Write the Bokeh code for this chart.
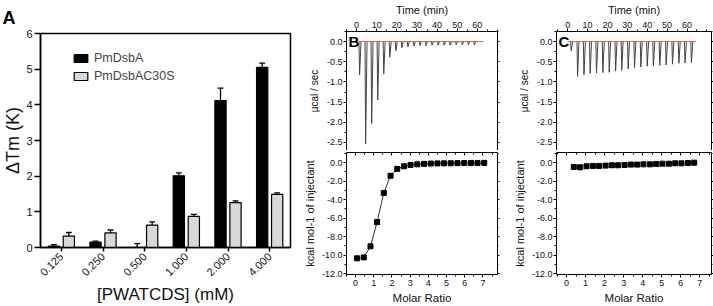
import math
from bokeh.plotting import figure
from bokeh.layouts import row, column
from bokeh.models import (FactorRange, Range1d, LinearAxis, Label, Legend, LegendItem,
                          FixedTicker, ColumnDataSource, PrintfTickFormatter)
from bokeh.transform import dodge
from bokeh.embed import file_html
from bokeh.resources import INLINE

FONT = "Liberation Sans"

# ---------------- Panel A data ----------------
conc_labels = ["0.125", "0.250", "0.500", "1.000", "2.000", "4.000"]
wt_dtm = [0.04, 0.15, 0.00, 2.01, 4.12, 5.05]
wt_err = [0.04, 0.03, 0.11, 0.08, 0.35, 0.12]
mut_dtm = [0.32, 0.41, 0.63, 0.87, 1.26, 1.49]
mut_err = [0.10, 0.08, 0.09, 0.06, 0.05, 0.04]
a_yticks = [0, 1, 2, 3, 4, 5, 6]

# ---------------- Panel B data ----------------
b_inj_time = [1.2, 4.2, 7.2, 10.2, 13.2, 16.2, 19.2, 22.2, 25.2, 28.2,
              31.2, 34.2, 37.2, 40.2, 43.2, 46.2, 49.2, 52.2, 55.2, 58.2]
b_peak = [-0.83, -2.54, -2.03, -1.45, -0.80, -0.39, -0.23, -0.15, -0.13, -0.11,
          -0.10, -0.10, -0.09, -0.09, -0.09, -0.09, -0.08, -0.08, -0.08, -0.08]
b_base_end = 63.0
b_ratio = [0.08, 0.45, 0.82, 1.18, 1.55, 1.92, 2.29, 2.66, 3.02, 3.39,
           3.76, 4.13, 4.50, 4.86, 5.23, 5.60, 5.97, 6.34, 6.70, 7.07]
b_heat = [-10.35, -10.25, -9.05, -6.43, -3.27, -1.42, -0.67, -0.39, -0.25, -0.18,
          -0.13, -0.10, -0.08, -0.07, -0.06, -0.05, -0.04, -0.03, -0.03, -0.02]

# ---------------- Panel C data ----------------
c_inj_time = [1.5, 4.7, 7.9, 11.0, 14.2, 17.4, 20.6, 23.8, 26.9, 30.1,
              33.3, 36.5, 39.7, 42.8, 46.0, 49.2, 52.4, 55.6, 58.7, 61.9]
c_peak = [-0.23, -0.86, -0.82, -0.79, -0.78, -0.77, -0.76, -0.73, -0.71, -0.68,
          -0.65, -0.63, -0.61, -0.60, -0.59, -0.58, -0.56, -0.54, -0.53, -0.52]
c_base_end = 64.5
c_ratio = [0.38, 0.71, 1.05, 1.38, 1.71, 2.05, 2.38, 2.71, 3.05, 3.38,
           3.71, 4.04, 4.38, 4.71, 5.04, 5.38, 5.71, 6.04, 6.38, 6.71]
c_heat = [-0.46, -0.50, -0.39, -0.35, -0.35, -0.32, -0.28, -0.28, -0.25, -0.21,
          -0.21, -0.18, -0.18, -0.14, -0.11, -0.11, -0.07, -0.07, -0.04, 0.00]

time_ticks = [0, 10, 20, 30, 40, 50, 60]
time_minor = [-5, 5, 15, 25, 35, 45, 55, 65, 70]
raw_ticks = [-2.5, -2.0, -1.5, -1.0, -0.5, 0.0]
raw_minor = [-2.75, -2.25, -1.75, -1.25, -0.75, -0.25, 0.25]
ratio_ticks = [0, 1, 2, 3, 4, 5, 6, 7]
ratio_minor = [-0.5, 0.5, 1.5, 2.5, 3.5, 4.5, 5.5, 6.5, 7.5]
heat_ticks = [-12, -10, -8, -6, -4, -2, 0]
heat_minor = [-11, -9, -7, -5, -3, -1, 1]


def base_axis(ax, fs, show_labels=True):
    ax.major_label_text_font = FONT
    ax.major_label_text_color = "#111111"
    ax.axis_label_text_font = FONT
    ax.axis_label_text_font_style = "normal"
    ax.axis_label_text_color = "#111111"
    ax.axis_line_color = "black"
    ax.major_tick_line_color = "black"
    ax.minor_tick_line_color = "black"
    if show_labels:
        ax.major_label_text_font_size = fs
    else:
        ax.major_label_text_font_size = "1px"
        ax.major_label_text_color = None
        ax.major_label_standoff = 0


# ================= Panel A =================
src = ColumnDataSource(dict(
    cat=conc_labels,
    wt=wt_dtm, wt_hi=[v + e for v, e in zip(wt_dtm, wt_err)],
    mut=mut_dtm, mut_hi=[v + e for v, e in zip(mut_dtm, mut_err)],
))

pa = figure(width=300, height=306, x_range=FactorRange(*conc_labels), y_range=Range1d(0, 6),
            output_backend="svg", toolbar_location=None, title="A",
            min_border_left=33, min_border_right=10, min_border_top=32, min_border_bottom=56)
pa.title.align = "left"
pa.title.offset = -38
pa.title.text_font = FONT
pa.title.text_font_size = "18px"
pa.title.text_font_style = "bold"
pa.title.text_color = "black"
pa.title.standoff = 11
pa.grid.visible = False
pa.outline_line_color = "black"
pa.outline_line_width = 1.5
pa.background_fill_color = "white"

off = 0.18
bw = 0.27
cap = 0.07
r_wt = pa.vbar(x=dodge("cat", -off, range=pa.x_range), top="wt", width=bw, bottom=0,
               source=src, fill_color="black", line_color="black", line_width=1.2)
r_mut = pa.vbar(x=dodge("cat", off, range=pa.x_range), top="mut", width=bw, bottom=0,
                source=src, fill_color="#d8d8d8", line_color="black", line_width=1.2)
for o, lo, hi in [(-off, "wt", "wt_hi"), (off, "mut", "mut_hi")]:
    pa.segment(x0=dodge("cat", o, range=pa.x_range), y0=lo,
               x1=dodge("cat", o, range=pa.x_range), y1=hi,
               source=src, line_color="black", line_width=1.3)
    pa.segment(x0=dodge("cat", o - cap, range=pa.x_range), y0=hi,
               x1=dodge("cat", o + cap, range=pa.x_range), y1=hi,
               source=src, line_color="black", line_width=1.3)

xa = pa.xaxis[0]
base_axis(xa, "11px")
xa.major_label_orientation = math.pi / 4
xa.major_tick_out = 4
xa.major_tick_in = 0
xa.axis_line_width = 1.5
xa.major_tick_line_width = 1.5
xa.axis_label = "[PWATCDS] (mM)"
xa.axis_label_text_font_size = "17px"
xa.axis_label_standoff = 2
xa.major_label_standoff = 3

ya = pa.yaxis[0]
base_axis(ya, "11px")
ya.ticker = FixedTicker(ticks=a_yticks)
ya.minor_tick_line_color = None
ya.major_tick_out = 6
ya.major_tick_in = 0
ya.axis_line_width = 1.5
ya.major_tick_line_width = 1.5
ya.major_label_standoff = 2
ya.axis_label = "ΔTm (K)"
ya.axis_label_text_font_size = "18px"
ya.axis_label_standoff = 0

legend = Legend(items=[LegendItem(label="PmDsbA", renderers=[r_wt]),
                       LegendItem(label="PmDsbAC30S", renderers=[r_mut])],
                location=(32, 163), glyph_width=17, glyph_height=10, label_height=16,
                spacing=2, padding=0, margin=0, label_standoff=5,
                label_text_font=FONT, label_text_font_size="12.5px",
                border_line_alpha=0, background_fill_alpha=0)
pa.add_layout(legend)


# ================= ITC panels =================
def itc_top(width, left, right, xr, times, peaks, base_end, letter):
    p = figure(width=width, height=150, x_range=Range1d(*xr), y_range=Range1d(-2.70, 0.25),
               x_axis_location="above", output_backend="svg", toolbar_location=None,
               min_border_left=left, min_border_right=right, min_border_top=30,
               min_border_bottom=0)
    p.grid.visible = False
    p.outline_line_color = None
    xs = [[t, t + 0.3, t + 1.0] for t in times]
    ys = [[0.0, d, 0.0] for d in peaks]
    p.multi_line(xs=xs, ys=ys, line_color="#444444", line_width=1)
    p.line(x=[0, base_end], y=[0, 0], line_color="#e05a55", line_width=1)

    ax = p.xaxis[0]
    base_axis(ax, "9px")
    ax.ticker = FixedTicker(ticks=time_ticks, minor_ticks=time_minor)
    ax.major_tick_out = 3
    ax.major_tick_in = 0
    ax.minor_tick_out = 2
    ax.minor_tick_in = 0
    ax.major_label_standoff = 1
    ax.axis_label = "Time (min)"
    ax.axis_label_text_font_size = "11px"
    ax.axis_label_standoff = 3

    ay = p.yaxis[0]
    base_axis(ay, "9px")
    ay.ticker = FixedTicker(ticks=raw_ticks, minor_ticks=raw_minor)
    ay.formatter = PrintfTickFormatter(format="%.1f")
    ay.major_tick_out = 3
    ay.major_tick_in = 0
    ay.minor_tick_out = 2
    ay.minor_tick_in = 0
    ay.major_label_standoff = 1
    ay.axis_label = "μcal / sec"
    ay.axis_label_text_font_size = "10px"
    ay.axis_label_standoff = 4

    rax = LinearAxis(ticker=FixedTicker(ticks=raw_ticks, minor_ticks=raw_minor))
    base_axis(rax, "9px", show_labels=False)
    rax.major_tick_out = 2
    rax.major_tick_in = 0
    rax.minor_tick_out = 1
    rax.minor_tick_in = 0
    p.add_layout(rax, "right")

    # panel letter (kept inside the plot frame, top-left corner)
    p.add_layout(Label(x=xr[0], y=0.25, x_units="data", y_units="data", text=letter,
                       x_offset=2, y_offset=-1,
                       text_font=FONT, text_font_style="bold", text_font_size="15px",
                       text_baseline="top", text_align="left", text_color="black"))
    return p


def itc_bot(width, left, right, xr, ratio, heat, fit):
    p = figure(width=width, height=156, x_range=Range1d(*xr), y_range=Range1d(-12.1, 1.1),
               output_backend="svg", toolbar_location=None,
               min_border_left=left, min_border_right=right, min_border_top=2,
               min_border_bottom=31)
    p.grid.visible = False
    p.outline_line_color = None
    if fit:
        p.line(x=ratio, y=heat, line_color="#333333", line_width=1)
    p.scatter(x=ratio, y=heat, marker="square", size=5, fill_color="black",
              line_color="black")

    ax = p.xaxis[0]
    base_axis(ax, "9px")
    ax.ticker = FixedTicker(ticks=ratio_ticks, minor_ticks=ratio_minor)
    ax.major_tick_out = 3
    ax.major_tick_in = 0
    ax.minor_tick_out = 2
    ax.minor_tick_in = 0
    ax.major_label_standoff = 2
    ax.axis_label = "Molar Ratio"
    ax.axis_label_text_font_size = "11.5px"
    ax.axis_label_standoff = 3

    ay = p.yaxis[0]
    base_axis(ay, "9px")
    ay.ticker = FixedTicker(ticks=heat_ticks, minor_ticks=heat_minor)
    ay.formatter = PrintfTickFormatter(format="%.1f")
    ay.major_tick_out = 3
    ay.major_tick_in = 0
    ay.minor_tick_out = 2
    ay.minor_tick_in = 0
    ay.major_label_standoff = 1
    ay.axis_label = "kcal mol-1 of injectant"
    ay.axis_label_text_font_size = "11px"
    ay.axis_label_standoff = 3

    tax = LinearAxis(ticker=FixedTicker(ticks=ratio_ticks, minor_ticks=ratio_minor))
    base_axis(tax, "9px", show_labels=False)
    tax.major_tick_out = 0
    tax.major_tick_in = 3
    tax.minor_tick_out = 0
    tax.minor_tick_in = 2
    p.add_layout(tax, "above")

    rax = LinearAxis(ticker=FixedTicker(ticks=heat_ticks, minor_ticks=heat_minor))
    base_axis(rax, "9px", show_labels=False)
    rax.major_tick_out = 2
    rax.major_tick_in = 0
    rax.minor_tick_out = 1
    rax.minor_tick_in = 0
    p.add_layout(rax, "right")
    return p


pbt = itc_top(210, 43, 13, (-5.0, 70.0), b_inj_time, b_peak, b_base_end, "B")
pbb = itc_bot(210, 43, 13, (-0.5, 7.8), b_ratio, b_heat, True)
pct = itc_top(203, 43, 2, (-5.6, 72.3), c_inj_time, c_peak, c_base_end, "C")
pcb = itc_bot(203, 43, 2, (-0.53, 7.62), c_ratio, c_heat, False)

layout = row(pa, column(pbt, pbb, spacing=0), column(pct, pcb, spacing=0), spacing=0)

open("out.html", "w").write(file_html(layout, INLINE))
